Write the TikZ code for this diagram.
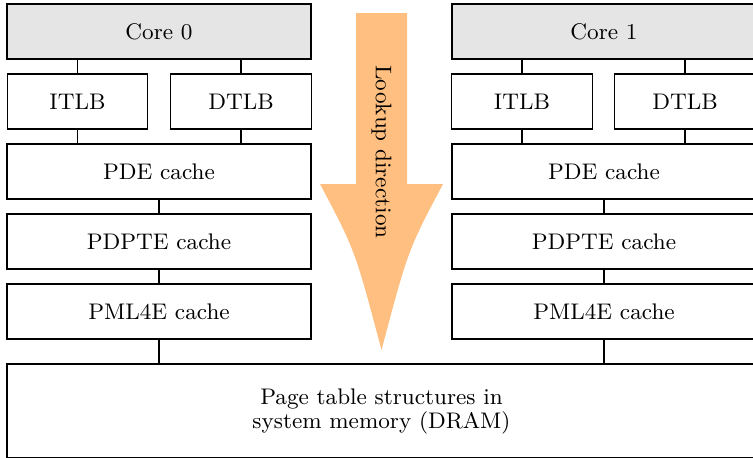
\documentclass[tikz,border=0pt]{standalone}
\usepackage{tikz}
\usetikzlibrary{positioning}

\begin{document}
\begin{tikzpicture}[x=0.0144cm,y=-0.0144cm,every node/.style={font=\fontsize{9.25}{8.3}\selectfont},
  cachebox/.style={draw,line width=0.5pt,inner sep=0pt,minimum width=4.3776cm,minimum height=0.792cm},
  tlbbox/.style={cachebox,minimum width=2.023cm},
  corebox/.style={cachebox,fill=black!10}]
\useasboundingbox (0,0) rectangle (753,457);
% lookup arrow
\fill[orange!50] (356,13) -- (407,13) -- (407,184) -- (443,184)
  .. controls (408,250) .. (381.5,350) .. controls (355,250) .. (320,184)
  -- (356,184) -- cycle;
\node[rotate=-90] (lookup) at (381.5,152) {Lookup direction};
% core 0
\node[corebox] (core0) at (159,31.5) {Core 0};
\node[tlbbox] (itlb0) at (77.5,101.5) {ITLB};
\node[tlbbox] (dtlb0) at (241,101.5) {DTLB};
\node[cachebox] (pde0) at (159,171.5) {PDE cache};
\node[cachebox] (pdpte0) at (159,241.5) {PDPTE cache};
\node[cachebox] (pmlfour0) at (159,311.5) {PML4E cache};
% core 1
\node[corebox] (core1) at (604,31.5) {Core 1};
\node[tlbbox] (itlb1) at (522,101.5) {ITLB};
\node[tlbbox] (dtlb1) at (685,101.5) {DTLB};
\node[cachebox] (pde1) at (604,171.5) {PDE cache};
\node[cachebox] (pdpte1) at (604,241.5) {PDPTE cache};
\node[cachebox] (pmlfour1) at (604,311.5) {PML4E cache};
% memory
\node[cachebox,minimum width=10.786cm,minimum height=1.354cm,align=center] (dram) at (381.5,411)
  {Page table structures in\\system memory (DRAM)};
% links
\foreach \c in {0,1}{
  \draw[line width=0.5pt] (itlb\c.north) -- (itlb\c.north |- core\c.south);
  \draw[line width=0.5pt] (dtlb\c.north) -- (dtlb\c.north |- core\c.south);
  \draw[line width=0.5pt] (itlb\c.south) -- (itlb\c.south |- pde\c.north);
  \draw[line width=0.5pt] (dtlb\c.south) -- (dtlb\c.south |- pde\c.north);
  \draw[line width=0.5pt] (pde\c) -- (pdpte\c);
  \draw[line width=0.5pt] (pdpte\c) -- (pmlfour\c);
  \draw[line width=0.5pt] (pmlfour\c.south) -- (pmlfour\c.south |- dram.north);
}
\end{tikzpicture}
\end{document}
